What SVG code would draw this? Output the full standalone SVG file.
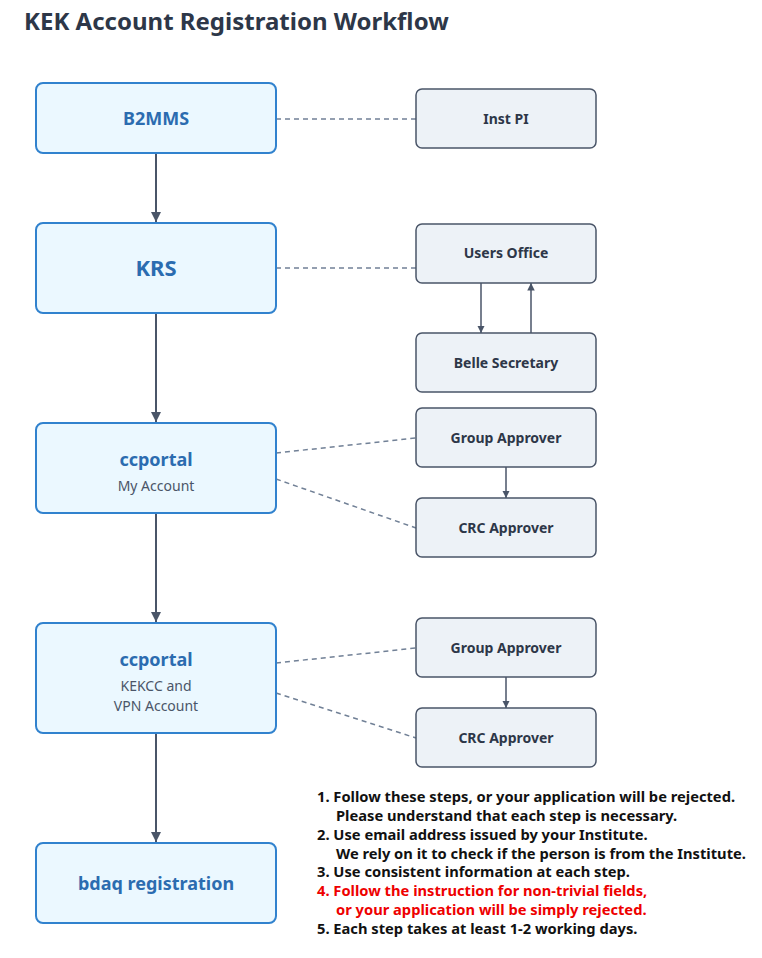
<svg xmlns="http://www.w3.org/2000/svg" width="762" height="958" viewBox="0 0 762 958">
<defs>
<style>
.main{fill:#ebf8ff;stroke:#3182ce;stroke-width:2}
.side{fill:#edf2f7;stroke:#4a5568;stroke-width:1.5}
.mt{font-family:"Noto Sans","Open Sans",sans-serif;font-weight:700;fill:#2b6cb0;text-anchor:middle}
.sub{font-family:"Noto Sans","Open Sans",sans-serif;font-size:14px;fill:#4a5568;text-anchor:middle}
.st{font-family:"Noto Sans","Open Sans",sans-serif;font-weight:700;font-size:14px;fill:#2d3748;text-anchor:middle}
.flow{stroke:#4a5568;stroke-width:2;fill:none}
.thin{stroke:#4a5568;stroke-width:1.5;fill:none}
.dash{stroke:#718096;stroke-width:1.5;stroke-dasharray:5 4;fill:none}
.note{font-family:"Noto Sans","Open Sans",sans-serif;font-weight:700;font-size:14.7px;fill:#111111}
.red{fill:#ee0000}
</style>
<marker id="ah" viewBox="0 0 10 10" refX="10" refY="5" markerWidth="5" markerHeight="5" orient="auto" markerUnits="strokeWidth">
<path d="M0,0 L10,5 L0,10 z" fill="#4a5568"/>
</marker>
<marker id="ahs" viewBox="0 0 10 10" refX="10" refY="5" markerWidth="5" markerHeight="5" orient="auto" markerUnits="strokeWidth">
<path d="M0,0 L10,5 L0,10 z" fill="#4a5568"/>
</marker>
</defs>
<rect width="762" height="958" fill="#ffffff"/>
<text x="24" y="30" font-family="'Noto Sans','Open Sans',sans-serif" font-weight="700" font-size="24" fill="#2d3748">KEK Account Registration Workflow</text>

<g id="connectors">
<line class="flow" x1="156" y1="153" x2="156" y2="222" marker-end="url(#ah)"/>
<line class="flow" x1="156" y1="313" x2="156" y2="422" marker-end="url(#ah)"/>
<line class="flow" x1="156" y1="513" x2="156" y2="622" marker-end="url(#ah)"/>
<line class="flow" x1="156" y1="733" x2="156" y2="842" marker-end="url(#ah)"/>
<line class="dash" x1="276" y1="119" x2="416" y2="119"/>
<line class="dash" x1="276" y1="268" x2="416" y2="268"/>
<line class="thin" x1="481" y1="283" x2="481" y2="333" marker-end="url(#ahs)"/>
<line class="thin" x1="531" y1="333" x2="531" y2="283" marker-end="url(#ahs)"/>
<line class="dash" x1="276" y1="453" x2="416" y2="438"/>
<line class="dash" x1="276" y1="479" x2="416" y2="528"/>
<line class="thin" x1="506" y1="467" x2="506" y2="498" marker-end="url(#ahs)"/>
<line class="dash" x1="276" y1="663" x2="416" y2="648"/>
<line class="dash" x1="276" y1="693" x2="416" y2="738"/>
<line class="thin" x1="506" y1="677" x2="506" y2="708" marker-end="url(#ahs)"/>
</g>

<g id="b2mms"><rect class="main" x="36" y="83" width="240" height="70" rx="7"/><text class="mt" x="156" y="125" font-size="18">B2MMS</text></g>
<g id="instpi"><rect class="side" x="416" y="89" width="180" height="59" rx="6"/><text class="st" x="506" y="124">Inst PI</text></g>
<g id="krs"><rect class="main" x="36" y="223" width="240" height="90" rx="7"/><text class="mt" x="156" y="276" font-size="22">KRS</text></g>
<g id="usersoffice"><rect class="side" x="416" y="224" width="180" height="59" rx="6"/><text class="st" x="506" y="258">Users Office</text></g>
<g id="bellesecretary"><rect class="side" x="416" y="333" width="180" height="59" rx="6"/><text class="st" x="506" y="368">Belle Secretary</text></g>
<g id="ccportal1"><rect class="main" x="36" y="423" width="240" height="90" rx="7"/><text class="mt" x="156" y="466" font-size="18">ccportal</text><text class="sub" x="156" y="491">My Account</text></g>
<g id="groupapprover1"><rect class="side" x="416" y="408" width="180" height="59" rx="6"/><text class="st" x="506" y="443">Group Approver</text></g>
<g id="crcapprover1"><rect class="side" x="416" y="498" width="180" height="59" rx="6"/><text class="st" x="506" y="533">CRC Approver</text></g>
<g id="ccportal2"><rect class="main" x="36" y="623" width="240" height="110" rx="7"/><text class="mt" x="156" y="666" font-size="18">ccportal</text><text class="sub" x="156" y="691">KEKCC and</text><text class="sub" x="156" y="711">VPN Account</text></g>
<g id="groupapprover2"><rect class="side" x="416" y="618" width="180" height="59" rx="6"/><text class="st" x="506" y="653">Group Approver</text></g>
<g id="crcapprover2"><rect class="side" x="416" y="708" width="180" height="59" rx="6"/><text class="st" x="506" y="743">CRC Approver</text></g>
<g id="bdaq"><rect class="main" x="36" y="843" width="240" height="80" rx="7"/><text class="mt" x="156" y="890" font-size="18">bdaq registration</text></g>

<g id="notes">
<text class="note" x="317" y="802">1. Follow these steps, or your application will be rejected.</text>
<text class="note" x="336" y="821">Please understand that each step is necessary.</text>
<text class="note" x="317" y="840">2. Use email address issued by your Institute.</text>
<text class="note" x="336" y="859">We rely on it to check if the person is from the Institute.</text>
<text class="note" x="317" y="877">3. Use consistent information at each step.</text>
<text class="note red" x="317" y="896">4. Follow the instruction for non-trivial fields,</text>
<text class="note red" x="336" y="915">or your application will be simply rejected.</text>
<text class="note" x="317" y="934">5. Each step takes at least 1-2 working days.</text>
</g>
</svg>
